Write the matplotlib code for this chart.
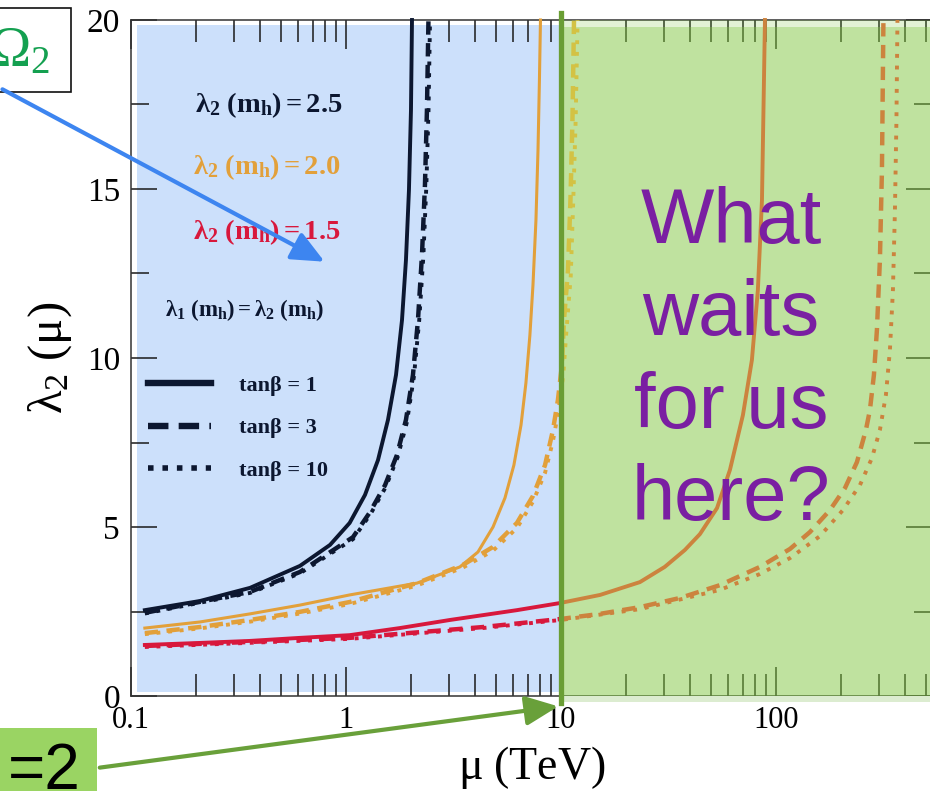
import matplotlib
matplotlib.use("Agg")
import matplotlib.pyplot as plt
from matplotlib.patches import Rectangle, FancyArrowPatch, ArrowStyle
from matplotlib.lines import Line2D
from matplotlib.ticker import FixedLocator, LogLocator, MultipleLocator, NullFormatter, FixedFormatter
from matplotlib.transforms import blended_transform_factory

plt.rcParams['font.family'] = ['Liberation Serif', 'DejaVu Serif']
plt.rcParams['mathtext.fontset'] = 'custom'
plt.rcParams['mathtext.rm'] = 'Liberation Serif'
plt.rcParams['mathtext.it'] = 'Liberation Serif:italic'
plt.rcParams['mathtext.bf'] = 'Liberation Serif:bold'

# ---- running coupling lambda_2(mu), mu in TeV ----
# lambda_2(m_h) = 2.5
l25_t1_mu  = [0.116, 0.209, 0.358, 0.611, 0.843, 1.04, 1.226, 1.409, 1.568, 1.709, 1.822, 1.901, 1.963, 2.006, 2.028]
l25_t1_lam = [2.54, 2.81, 3.20, 3.85, 4.47, 5.12, 5.95, 6.98, 8.17, 9.50, 11.12, 12.90, 14.97, 17.34, 20.0]
l25_t3_mu  = [0.116, 0.358, 0.611, 1.078, 1.293, 1.52, 1.726, 1.901, 2.049, 2.162, 2.257, 2.33, 2.38, 2.419]
l25_t3_lam = [2.46, 3.08, 3.67, 4.70, 5.44, 6.24, 7.13, 8.17, 9.50, 11.12, 13.05, 15.12, 17.34, 20.0]
l25_t10_mu  = [0.116, 0.358, 0.611, 1.078, 1.30, 1.53, 1.74, 1.92, 2.07, 2.19, 2.29, 2.365, 2.42, 2.46]
l25_t10_lam = [2.44, 3.05, 3.63, 4.64, 5.38, 6.18, 7.07, 8.10, 9.45, 11.1, 13.0, 15.1, 17.3, 20.0]
# lambda_2(m_h) = 2.0
l20_t1_mu  = [0.116, 0.209, 0.358, 0.611, 1.04, 2.14, 3.39, 4.11, 4.83, 5.49, 6.04, 6.52, 6.87, 7.17,
              7.41, 7.65, 7.82, 7.94, 8.03]
l20_t1_lam = [2.01, 2.19, 2.43, 2.69, 2.99, 3.34, 3.82, 4.26, 5.00, 5.86, 6.83, 8.02, 9.26, 10.68,
              12.16, 14.08, 16.15, 18.22, 20.0]
l20_t3_mu  = [0.116, 0.209, 0.358, 0.611, 1.04, 2.14, 3.50, 4.83, 6.24, 7.41, 8.43, 9.18, 9.68, 10.1,
              10.33, 10.78, 11.07, 11.31, 11.5]
l20_t3_lam = [1.86, 2.04, 2.25, 2.49, 2.78, 3.34, 3.88, 4.41, 5.12, 5.92, 6.83, 7.87, 8.76, 9.79,
              11.12, 12.60, 14.67, 17.04, 20.0]
l20_t10_mu  = [0.116, 0.209, 0.358, 0.611, 1.04, 2.14, 3.50, 4.83, 6.24, 7.41, 8.43, 9.18, 9.75, 10.25,
               10.6, 11.1, 11.4, 11.7, 11.95]
l20_t10_lam = [1.83, 2.00, 2.20, 2.44, 2.72, 3.27, 3.80, 4.30, 4.97, 5.75, 6.60, 7.55, 8.45, 9.50,
               10.8, 12.4, 14.6, 17.0, 20.0]
# lambda_2(m_h) = 1.5
l15_t1_mu  = [0.116, 0.209, 0.358, 0.611, 1.04, 1.78, 3.05, 6.24, 9.89, 15.2, 23.3, 30.4, 37.7, 44.3,
              53.2, 61.1, 70.2, 77.3, 82.4, 86.1, 88.9]
l15_t1_lam = [1.51, 1.57, 1.63, 1.72, 1.80, 2.01, 2.25, 2.54, 2.75, 2.99, 3.37, 3.82, 4.32, 4.79,
              5.56, 6.69, 8.31, 9.94, 12.01, 14.67, 20.0]
l15_t3_mu  = [0.116, 0.358, 1.04, 4.33, 10.0, 15.19, 23.3, 35.77, 54.9, 84.27, 116.2, 143.9, 178.3,
              209.4, 238.1, 262.1, 273.6, 285.6, 294.9, 304.5, 311.2, 316.2]
l15_t3_lam = [1.48, 1.60, 1.72, 2.04, 2.28, 2.43, 2.63, 2.90, 3.28, 3.82, 4.35, 4.85, 5.50,
              6.15, 6.92, 7.87, 8.46, 9.50, 10.83, 12.90, 15.56, 20.0]
l15_t10_mu  = [0.116, 1.04, 4.33, 10.0, 23.3, 54.9, 84.27, 116.2, 160.2, 204.9, 245.9, 279.6, 304.5,
               324.8, 339.0, 350.1, 357.7, 363.5, 367.4]
l15_t10_lam = [1.45, 1.69, 2.01, 2.25, 2.57, 3.14, 3.61, 4.08, 4.73, 5.50, 6.24, 7.04, 7.87,
               8.91, 10.24, 12.01, 14.38, 17.04, 20.0]

x_ticks = [0.1, 1, 10, 100]
x_tick_labels = ["0.1", "1", "10", "100"]
y_ticks = [0, 5, 10, 15, 20]
mu_split = 10          # TeV, boundary of the shaded regions
x_range = (0.1, 532)
y_range = (0, 20)

NAVY = "#0c1730"
ORANGE = "#e2a03a"
RED = "#d8183c"
RED_ON_GREEN = "#cc833e"
ORANGE_ON_GREEN = "#d3c244"

W, H = 930, 791
fig = plt.figure(figsize=(W / 100, H / 100), dpi=100)

def fx(px):
    return px / W

def fy(py):
    return 1 - py / H

ax = fig.add_axes([fx(131), fy(696), (932 - 131) / W, (696 - 20) / H])
ax.set_xscale('log')
ax.set_xlim(*x_range)
ax.set_ylim(*y_range)
ax.set_facecolor('white')

# shaded regions
ax.axvspan(0.1066, mu_split, ymin=0.006, ymax=0.992, color="#cce0fb", lw=0, zorder=0.5)
ax.axvspan(mu_split, x_range[1], ymin=0, ymax=0.9896, color="#81c741", alpha=0.5, lw=0, zorder=3)
ax.axvspan(mu_split, x_range[1], ymin=0.9896, ymax=1, color="#81c741", alpha=0.22, lw=0, zorder=3)
ax.axvspan(mu_split, x_range[1], ymin=-0.009, ymax=0, color="#dcecd0", lw=0, zorder=3, clip_on=False)

blend = blended_transform_factory(ax.transData, ax.transAxes)
clip_left = Rectangle((1e-3, -1), mu_split - 1e-3, 3, transform=blend, visible=False)
clip_right = Rectangle((mu_split, -1), 1e5, 3, transform=blend, visible=False)
ax.add_patch(clip_left)
ax.add_patch(clip_right)

def styled(ls):
    if ls == 'solid':
        return dict(linestyle='-')
    if ls == 'dashed':
        return dict(linestyle=(0, (3.0, 1.9)), dash_capstyle='butt')
    return dict(linestyle=(0, (1.0, 2.0)), dash_capstyle='butt')

series = [
    (l25_t1_mu, l25_t1_lam, NAVY, NAVY, 'solid', 2.8),
    (l25_t3_mu, l25_t3_lam, NAVY, NAVY, 'dashed', 3.2),
    (l25_t10_mu, l25_t10_lam, NAVY, NAVY, 'dotted', 2.8),
    (l20_t1_mu, l20_t1_lam, ORANGE, ORANGE_ON_GREEN, 'solid', 2.2),
    (l20_t3_mu, l20_t3_lam, ORANGE, ORANGE_ON_GREEN, 'dashed', 3.2),
    (l20_t10_mu, l20_t10_lam, ORANGE, ORANGE_ON_GREEN, 'dotted', 2.8),
    (l15_t1_mu, l15_t1_lam, RED, RED_ON_GREEN, 'solid', 2.8),
    (l15_t3_mu, l15_t3_lam, RED, RED_ON_GREEN, 'dashed', 3.2),
    (l15_t10_mu, l15_t10_lam, RED, RED_ON_GREEN, 'dotted', 2.8),
]
for mu, lam, c_left, c_right, ls, lw in series:
    ln, = ax.plot(mu, lam, color=c_left, lw=lw, zorder=2.6, solid_joinstyle='round', **styled(ls))
    ln.set_clip_path(clip_left)
    ln2, = ax.plot(mu, lam, color=c_right, lw=lw, zorder=4, solid_joinstyle='round', **styled(ls))
    ln2.set_clip_path(clip_right)

# axis line at the region boundary
ax.axvline(mu_split, ymin=-0.0104, ymax=1.0104, color="#6a9e34", lw=3.8, zorder=5, clip_on=False)

# ticks
ax.xaxis.set_major_locator(FixedLocator(x_ticks))
ax.xaxis.set_major_formatter(FixedFormatter(x_tick_labels))
ax.xaxis.set_minor_locator(LogLocator(base=10, subs=[2, 3, 4, 5, 6, 7, 8, 9], numticks=20))
ax.xaxis.set_minor_formatter(NullFormatter())
ax.yaxis.set_major_locator(FixedLocator(y_ticks))
ax.yaxis.set_minor_locator(MultipleLocator(2.5))
ax.tick_params(axis='x', which='both', direction='in', top=True, bottom=True, width=1.1, color='#1a1a1a')
ax.tick_params(axis='x', which='major', length=21, labelsize=22, pad=7)
ax.tick_params(axis='x', which='minor', length=15.5)
ax.tick_params(axis='y', which='both', direction='in', left=True, right=True, width=1.1, color='#1a1a1a')
ax.tick_params(axis='y', which='major', length=18.5, labelsize=24, pad=8)
ax.tick_params(axis='y', which='minor', length=13)
for sp in ax.spines.values():
    sp.set_linewidth(1.1)
    sp.set_color('#333333')

ax.set_xlabel(r'$\mathrm{\mu\ (TeV)}$', fontsize=33, labelpad=7)
ax.set_ylabel(r'$\mathrm{\lambda_2\ (\mu)}$', fontsize=35, labelpad=9)

# in-plot annotations
def axpos(px, py):
    return ((px - 131) / 801, (696 - py) / 676)

ax.text(*axpos(195, 105), r'$\mathbf{\lambda_2\ (m_h) = 2.5}$', color=NAVY, fontsize=20.5,
        transform=ax.transAxes, va='center', ha='left', zorder=6)
ax.text(*axpos(193, 167), r'$\mathbf{\lambda_2\ (m_h) = 2.0}$', color=ORANGE, fontsize=20.5,
        transform=ax.transAxes, va='center', ha='left', zorder=6)
ax.text(*axpos(193, 232), r'$\mathbf{\lambda_2\ (m_h) = 1.5}$', color=RED, fontsize=20.5,
        transform=ax.transAxes, va='center', ha='left', zorder=6)
ax.text(*axpos(165, 310), r'$\mathbf{\lambda_1\ (m_h) = \lambda_2\ (m_h)}$', color=NAVY, fontsize=16.5,
        transform=ax.transAxes, va='center', ha='left', zorder=6)

handles = [
    Line2D([], [], color=NAVY, lw=4.6, linestyle='-'),
    Line2D([], [], color=NAVY, lw=4.6, linestyle=(0, (3.2, 1.6)), dash_capstyle='butt'),
    Line2D([], [], color=NAVY, lw=4.0, linestyle=(0, (1.0, 1.6)), dash_capstyle='butt'),
]
leg = ax.legend(handles, ['tanβ = 1', 'tanβ = 3', 'tanβ = 10'], loc='upper left',
                bbox_to_anchor=axpos(148, 375), frameon=False, borderpad=0, borderaxespad=0,
                handlelength=2.85, handletextpad=1.25, labelspacing=1.0,
                prop=dict(family='Liberation Serif', weight='bold', size=16))
for t in leg.get_texts():
    t.set_color(NAVY)
leg.set_zorder(6)

# slide overlays
fig.text(fx(731), fy(186), "What\nwaits\nfor us\nhere?", ha='center', va='top',
         fontsize=56, color="#7a1fa2", family='Liberation Sans', linespacing=1.34, zorder=7)

fig.add_artist(Rectangle((fx(-5), fy(92)), fx(76), (92 - 8) / H, facecolor='white',
                         edgecolor='#111111', lw=1.2, transform=fig.transFigure, zorder=8))
fig.text(fx(50), fy(66), r'$\mathit{\Omega_2}$', ha='right', va='baseline', fontsize=40,
         color="#14a050", zorder=9)

fig.add_artist(Rectangle((fx(0), fy(795)), fx(97), (795 - 728) / H, facecolor='#9ad463',
                         edgecolor='none', transform=fig.transFigure, zorder=8))
fig.text(fx(81), fy(789), "=2", ha='right', va='baseline', fontsize=46,
         color='black', family='Liberation Sans', zorder=9)

arrow_blue = FancyArrowPatch((fx(0), fy(88)), (fx(327), fy(263)), transform=fig.transFigure,
                             arrowstyle=ArrowStyle('-|>', head_length=1.0, head_width=0.45),
                             mutation_scale=20, color='#3d85f0', lw=3.0, zorder=9)
fig.add_artist(arrow_blue)
arrow_green = FancyArrowPatch((fx(97), fy(768)), (fx(561), fy(706)), transform=fig.transFigure,
                              arrowstyle=ArrowStyle('-|>', head_length=1.0, head_width=0.45),
                              mutation_scale=20, color='#69a03a', lw=3.0, zorder=9)
fig.add_artist(arrow_green)

fig.savefig("out.png", dpi=100)
